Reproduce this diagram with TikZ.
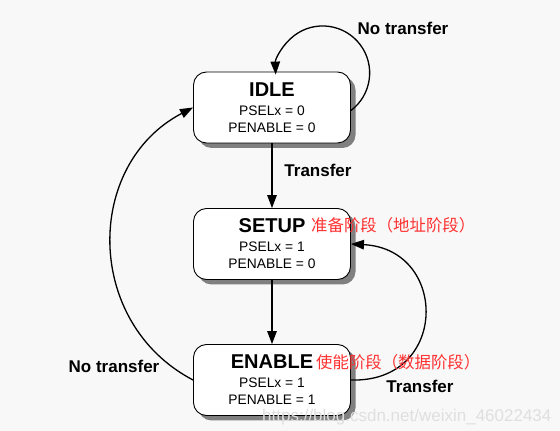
\documentclass[tikz,border=0pt]{standalone}
\usepackage{fontspec}
\setmainfont{Liberation Sans}
\newfontfamily\cjk{Noto Sans CJK SC}
\usetikzlibrary{arrows.meta,shadows}
\definecolor{bg}{HTML}{F8F8F8}
\definecolor{redtxt}{RGB}{255,48,48}
\definecolor{shadowgray}{HTML}{808080}
\begin{document}
\begin{tikzpicture}[x=1pt,y=1pt,
  state/.style={draw=black, line width=0.9pt, fill=white, rounded corners=13pt,
    minimum width=157pt, minimum height=71pt, inner sep=0pt,
    copy shadow={shadow xshift=5pt, shadow yshift=-5pt, fill=shadowgray, draw=none}},
  title/.style={font=\bfseries\fontsize{20}{24}\selectfont, anchor=base, inner sep=0pt},
  val/.style={font=\fontsize{13.8}{16}\selectfont, anchor=base, inner sep=0pt},
  lbl/.style={font=\bfseries\fontsize{17}{20}\selectfont, anchor=base, inner sep=0pt},
  note/.style={font=\cjk\fontsize{16.4}{19}\selectfont, text=redtxt, anchor=base west, inner sep=0pt},
  arr/.style={line width=1.3pt, -{Triangle[length=13pt,width=9.5pt]}}]

\fill[bg] (0,0) rectangle (560,431);
\useasboundingbox (0,0) rectangle (560,431);

% states
\node[state] (idle) at (272,323.5) {};
\node[state] (setup) at (272,187) {};
\node[state] (enable) at (272,51) {};

\node[title] (idlet) at ([yshift=10.5pt]idle.center) {IDLE};
\node[val] (idlep) at ([yshift=-8.5pt]idle.center) {PSELx = 0};
\node[val] (idlee) at ([yshift=-25pt]idle.center) {PENABLE = 0};

\node[title] (setupt) at ([yshift=11pt]setup.center) {SETUP};
\node[val] (setupp) at ([yshift=-8pt]setup.center) {PSELx = 1};
\node[val] (setupe) at ([yshift=-24.5pt]setup.center) {PENABLE = 0};

\node[title] (enablet) at ([yshift=11pt]enable.center) {ENABLE};
\node[val] (enablep) at ([yshift=-8pt]enable.center) {PSELx = 1};
\node[val] (enablee) at ([yshift=-24.5pt]enable.center) {PENABLE = 1};

% connectors
\draw[arr] (idle) -- (setup);
\draw[arr] (setup) -- (enable);
\draw[arr] ([yshift=-3pt]idle.east) arc[start angle=-53, end angle=182, radius=47];
\draw[arr] (enable.west) .. controls +(-109,57) and +(-109,-57) .. (idle.west);
\draw[arr] (enable.east) .. controls +(98,-3) and +(98,-5) .. (setup.east);

% labels
\node[lbl] (lnt1) at (403,396) {No transfer};
\node[lbl] (lt1) at (318,254) {Transfer};
\node[lbl] (lnt2) at (114,58) {No transfer};
\node[lbl] (lt2) at (420,38) {Transfer};

% notes
\node[note] (n1) at (311,199) {准备阶段（地址阶段）};
\node[note] (n2) at (316,62) {使能阶段（数据阶段）};

% watermark
\node[font=\fontsize{17}{20}\selectfont, text=gray!25, anchor=base west, inner sep=0pt] (wm) at (262,9) {https://blog.csdn.net/weixin\_46022434};
\end{tikzpicture}
\end{document}
